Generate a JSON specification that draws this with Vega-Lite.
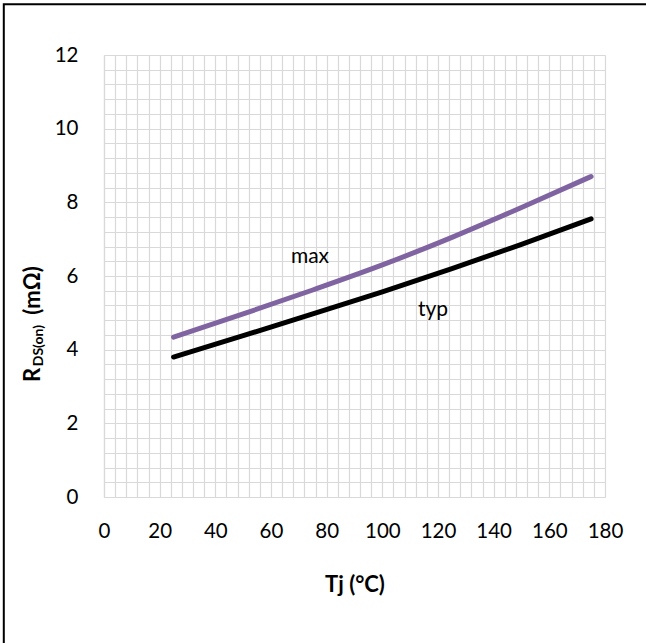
{
  "$schema": "https://vega.github.io/schema/vega-lite/v6.json",
  "width": 501,
  "height": 442,
  "autosize": {"type": "none"},
  "padding": {"left": 104, "top": 55, "right": 41, "bottom": 146},
  "background": "white",
  "config": {
    "view": {"stroke": null},
    "font": "Lato",
    "axis": {
      "grid": true,
      "gridColor": "#d9d9d9",
      "gridWidth": 1.2,
      "domainColor": "#d9d9d9",
      "domainWidth": 1.2,
      "ticks": false,
      "tickSize": 0,
      "tickCount": 200,
      "labelFont": "Lato",
      "labelFontSize": 20.5,
      "labelColor": "#000000",
      "titleFont": "Lato",
      "titleColor": "#000000"
    }
  },
  "datasets": {
    "curves": [
      {"T": 25, "R": 3.80, "series": "typ"},
      {"T": 50, "R": 4.38, "series": "typ"},
      {"T": 75, "R": 4.97, "series": "typ"},
      {"T": 100, "R": 5.57, "series": "typ"},
      {"T": 125, "R": 6.20, "series": "typ"},
      {"T": 150, "R": 6.86, "series": "typ"},
      {"T": 175, "R": 7.55, "series": "typ"},
      {"T": 25, "R": 4.34, "series": "max"},
      {"T": 50, "R": 4.97, "series": "max"},
      {"T": 75, "R": 5.62, "series": "max"},
      {"T": 100, "R": 6.30, "series": "max"},
      {"T": 125, "R": 7.05, "series": "max"},
      {"T": 150, "R": 7.86, "series": "max"},
      {"T": 175, "R": 8.70, "series": "max"}
    ],
    "labels": [
      {"T": 74.0, "R": 6.52, "label": "max"},
      {"T": 118.2, "R": 5.08, "label": "typ"}
    ]
  },
  "layer": [
    {
      "data": {"name": "curves"},
      "mark": {"type": "line", "interpolate": "monotone", "strokeWidth": 5, "strokeCap": "round", "clip": false},
      "encoding": {
        "x": {
          "field": "T",
          "type": "quantitative",
          "scale": {"domain": [0, 180], "nice": false, "zero": false},
          "axis": {
            "values": [0, 4, 8, 12, 16, 20, 24, 28, 32, 36, 40, 44, 48, 52, 56, 60, 64, 68, 72, 76, 80, 84, 88, 92, 96, 100, 104, 108, 112, 116, 120, 124, 128, 132, 136, 140, 144, 148, 152, 156, 160, 164, 168, 172, 176, 180],
            "tickCount": 200,
            "labelExpr": "datum.value % 20 == 0 ? format(datum.value, 'd') : ''",
            "labelPadding": 24,
            "labelFlush": false,
            "labelOverlap": false,
            "title": "Tj (°C)",
            "titleFontSize": 22,
            "titleFontWeight": "bold",
            "titlePadding": 33
          }
        },
        "y": {
          "field": "R",
          "type": "quantitative",
          "scale": {"domain": [0, 12], "nice": false, "zero": false},
          "axis": {
            "values": [0, 0.4, 0.8, 1.2, 1.6, 2, 2.4, 2.8, 3.2, 3.6, 4, 4.4, 4.8, 5.2, 5.6, 6, 6.4, 6.8, 7.2, 7.6, 8, 8.4, 8.8, 9.2, 9.6, 10, 10.4, 10.8, 11.2, 11.6, 12],
            "tickCount": 200,
            "labelExpr": "abs(datum.value - round(datum.value / 2) * 2) < 0.01 ? format(datum.value, 'd') : ''",
            "labelPadding": 26,
            "labelFlush": false,
            "labelOverlap": false,
            "title": null
          }
        },
        "color": {
          "field": "series",
          "type": "nominal",
          "scale": {"domain": ["typ", "max"], "range": ["#000000", "#8064a2"]},
          "legend": null
        },
        "detail": {"field": "series"}
      }
    },
    {
      "data": {"name": "labels"},
      "mark": {"type": "text", "font": "Lato", "fontSize": 21, "color": "#000000", "align": "center", "baseline": "middle"},
      "encoding": {
        "x": {"field": "T", "type": "quantitative"},
        "y": {"field": "R", "type": "quantitative"},
        "text": {"field": "label"}
      }
    },
    {
      "data": {"values": [{}]},
      "mark": {"type": "text", "font": "Lato", "fontWeight": "bold", "fontSize": 22, "angle": 270, "align": "left", "baseline": "alphabetic", "color": "#000000", "clip": false},
      "encoding": {
        "x": {"datum": -23.0, "type": "quantitative"},
        "y": {"datum": 3.12, "type": "quantitative"},
        "text": {"value": "R"}
      }
    },
    {
      "data": {"values": [{}]},
      "mark": {"type": "text", "font": "Lato", "fontWeight": "bold", "fontSize": 14, "angle": 270, "align": "left", "baseline": "alphabetic", "color": "#000000", "clip": false},
      "encoding": {
        "x": {"datum": -22.0, "type": "quantitative"},
        "y": {"datum": 3.55, "type": "quantitative"},
        "text": {"value": "DS(on)"}
      }
    },
    {
      "data": {"values": [{}]},
      "mark": {"type": "text", "font": "Lato", "fontWeight": "bold", "fontSize": 22, "angle": 270, "align": "left", "baseline": "alphabetic", "color": "#000000", "clip": false},
      "encoding": {
        "x": {"datum": -23.0, "type": "quantitative"},
        "y": {"datum": 4.95, "type": "quantitative"},
        "text": {"value": "(mΩ)"}
      }
    },
    {
      "data": {"values": [{}]},
      "mark": {"type": "rect", "filled": false, "stroke": "#000000", "strokeWidth": 2, "clip": false},
      "encoding": {
        "x": {"datum": -36.0, "type": "quantitative"},
        "x2": {"datum": 200.0},
        "y": {"datum": 13.38, "type": "quantitative"},
        "y2": {"datum": -5.0}
      }
    }
  ]
}
